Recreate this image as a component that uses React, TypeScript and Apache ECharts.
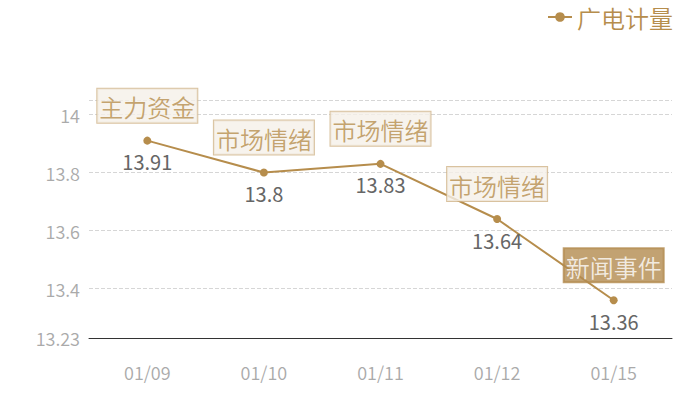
import React, { useEffect, useRef } from "react";
import * as echarts from "echarts";

const categories = ["01/09", "01/10", "01/11", "01/12", "01/15"];
const prices = [13.91, 13.8, 13.83, 13.64, 13.36];
const events = ["主力资金", "市场情绪", "市场情绪", "市场情绪", "新闻事件"];
const seriesName = "广电计量";
const yMin = 13.23;
const yMax = 14.05;

const GOLD = "#b68d4c";
const FONT = "'Noto Sans CJK SC', 'Noto Sans', sans-serif";
const THIN = 350;

export default function App() {
  const ref = useRef<HTMLDivElement>(null);
  useEffect(() => {
    if (!ref.current) return;
    const chart = echarts.init(ref.current, null, { renderer: "svg" });
    const eventData = prices.map((v, i) => {
      const dark = events[i] === "新闻事件";
      return {
        value: v,
        label: {
          formatter: events[i],
          color: dark ? "#ffffff" : GOLD,
          backgroundColor: dark ? "#b38b4f" : "#f5f0e9",
          borderColor: dark ? "#b38b4f" : "#cfb387",
          borderWidth: 1,
        },
      };
    });
    chart.setOption({
      animation: false,
      textStyle: { fontFamily: FONT },
      legend: {
        data: [seriesName],
        right: 22,
        top: 0,
        itemWidth: 24,
        itemHeight: 12,
        textStyle: { color: GOLD, fontSize: 24, fontWeight: THIN, fontFamily: FONT },
      },
      grid: { left: 89, right: 28, top: 100, bottom: 62 },
      xAxis: {
        type: "category",
        data: categories,
        axisTick: { show: false },
        axisLine: { lineStyle: { color: "#333", width: 1 } },
        axisLabel: { color: "#aaa", fontSize: 18, fontWeight: THIN, margin: 25, fontFamily: FONT },
      },
      yAxis: {
        type: "value",
        min: yMin,
        max: yMax,
        axisLine: { show: false },
        axisTick: { show: false },
        axisLabel: {
          color: "#aaa",
          fontSize: 18,
          fontWeight: THIN,
          margin: 9,
          showMaxLabel: false,
          fontFamily: FONT,
        },
        splitLine: { lineStyle: { type: "dashed", color: "#d6d6d6", width: 1 } },
      },
      series: [
        {
          name: seriesName,
          type: "line",
          data: prices,
          color: GOLD,
          symbol: "circle",
          symbolSize: 8,
          lineStyle: { color: GOLD, width: 2 },
          itemStyle: { color: GOLD },
          label: {
            show: true,
            position: "bottom",
            distance: 7,
            color: "#666",
            fontSize: 20,
            fontWeight: 400,
            fontFamily: FONT,
          },
          z: 2,
        },
        {
          type: "scatter",
          data: eventData,
          symbolSize: 8,
          itemStyle: { color: "rgba(0,0,0,0)" },
          label: {
            show: true,
            position: "top",
            distance: 14,
            fontSize: 24,
            fontWeight: THIN,
            lineHeight: 28,
            padding: [4, 2, 2, 2],
            fontFamily: FONT,
          },
          z: 5,
          silent: true,
        },
      ],
    });
    return () => chart.dispose();
  }, []);
  return (
    <div
      ref={ref}
      style={{ position: "absolute", left: 0, top: 0, width: 700, height: 400 }}
    />
  );
}
